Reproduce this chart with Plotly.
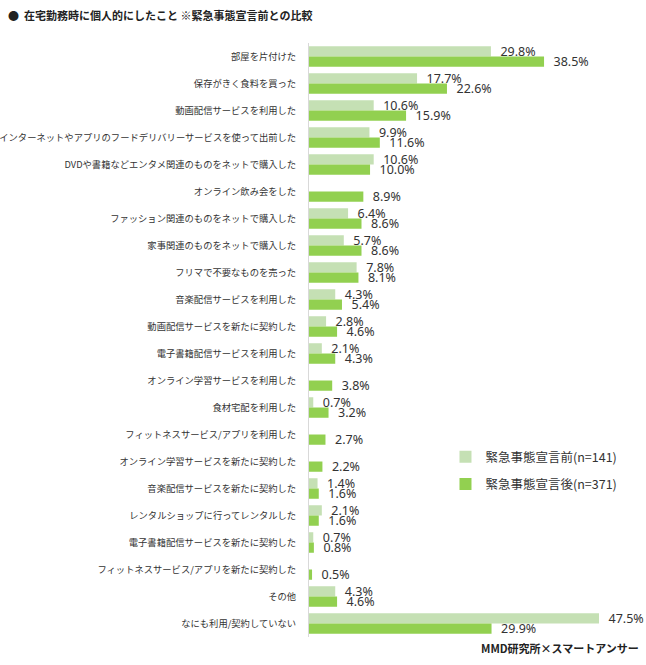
import plotly.graph_objects as go

categories = [
    "部屋を片付けた",
    "保存がきく食料を買った",
    "動画配信サービスを利用した",
    "インターネットやアプリのフードデリバリーサービスを使って出前した",
    "DVDや書籍などエンタメ関連のものをネットで購入した",
    "オンライン飲み会をした",
    "ファッション関連のものをネットで購入した",
    "家事関連のものをネットで購入した",
    "フリマで不要なものを売った",
    "音楽配信サービスを利用した",
    "動画配信サービスを新たに契約した",
    "電子書籍配信サービスを利用した",
    "オンライン学習サービスを利用した",
    "食材宅配を利用した",
    "フィットネスサービス/アプリを利用した",
    "オンライン学習サービスを新たに契約した",
    "音楽配信サービスを新たに契約した",
    "レンタルショップに行ってレンタルした",
    "電子書籍配信サービスを新たに契約した",
    "フィットネスサービス/アプリを新たに契約した",
    "その他",
    "なにも利用/契約していない",
]

before = [29.8, 17.7, 10.6, 9.9, 10.6, None, 6.4, 5.7, 7.8, 4.3, 2.8, 2.1,
          None, 0.7, None, None, 1.4, 2.1, 0.7, None, 4.3, 47.5]
after = [38.5, 22.6, 15.9, 11.6, 10.0, 8.9, 8.6, 8.6, 8.1, 5.4, 4.6, 4.3,
         3.8, 3.2, 2.7, 2.2, 1.6, 1.6, 0.8, 0.5, 4.6, 29.9]

series_names = ["緊急事態宣言前(n=141)", "緊急事態宣言後(n=371)"]
colors = ["#C5E0B4", "#92D050"]

jp = "Noto Sans CJK JP"
num_font = dict(family="Noto Sans, " + jp, size=12.5, color="#333333")
pad = "\u00a0\u00a0"

fig = go.Figure()
for name, vals, col, grp in zip(series_names, [before, after], colors, ["a", "b"]):
    fig.add_trace(go.Bar(
        y=categories, x=vals, name=name, orientation="h",
        marker=dict(color=col, line=dict(width=0)),
        text=[None if v is None else f"{pad}{v:.1f}%" for v in vals],
        textposition="outside", textfont=num_font, constraintext="none",
        cliponaxis=False, legendgroup=grp,
    ))

fig.update_layout(
    width=646, height=665,
    margin=dict(l=309, r=0, t=43, b=28),
    plot_bgcolor="white", paper_bgcolor="white",
    barmode="group", bargap=0.24, bargroupgap=0,
    showlegend=True,
    legend=dict(x=0.405, y=0.328, xanchor="left", yanchor="top",
                font=dict(family=jp, size=12.5, color="#333333"),
                tracegroupgap=8, bgcolor="rgba(0,0,0,0)", itemwidth=30),
    title=dict(text="<b>●  在宅勤務時に個人的にしたこと ※緊急事態宣言前との比較</b>",
               xref="container", yref="container", x=8/646, y=1-16/665,
               xanchor="left", yanchor="middle",
               font=dict(family=jp, size=11, color="#222222")),
    font=dict(family=jp),
)
fig.update_xaxes(range=[0, 55.2], visible=False, fixedrange=True)
fig.update_yaxes(autorange="reversed", showline=True, linecolor="#D9D9D9", linewidth=1,
                 ticks="", ticklabelstandoff=10, automargin=False,
                 tickfont=dict(family=jp, size=9.3, color="#333333"),
                 showgrid=False)
fig.add_annotation(text="<b>MMD研究所×スマートアンサー</b>", xref="paper", yref="paper",
                   x=0.985, y=-0.019, xanchor="right", yanchor="middle", showarrow=False,
                   font=dict(family=jp, size=11, color="#222222"))

fig.write_html("out.html")
